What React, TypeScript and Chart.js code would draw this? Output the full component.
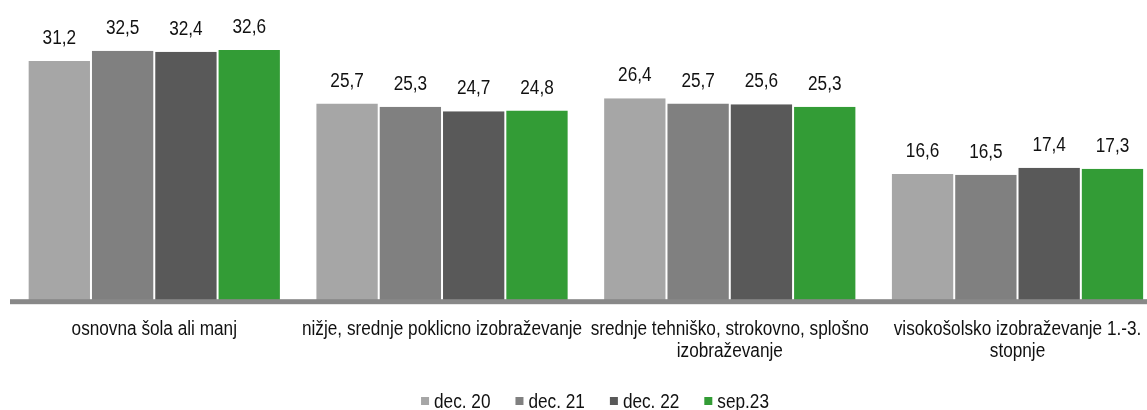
import React, { useEffect, useRef } from "react";
import { Chart, registerables } from "chart.js";

Chart.register(...registerables);

const categories: string[][] = [
  ["osnovna šola ali manj"],
  ["nižje, srednje poklicno izobraževanje"],
  ["srednje tehniško, strokovno, splošno", "izobraževanje"],
  ["visokošolsko izobraževanje 1.-3.", "stopnje"],
];
const seriesLabels = ["dec. 20", "dec. 21", "dec. 22", "sep.23"];
const dec20 = [31.2, 25.7, 26.4, 16.6];
const dec21 = [32.5, 25.3, 25.7, 16.5];
const dec22 = [32.4, 24.7, 25.6, 17.4];
const sep23 = [32.6, 24.8, 25.3, 17.3];
const seriesColors = ["#a6a6a6", "#808080", "#595959", "#339c36"];

const FONT = "'Liberation Sans', Arial, sans-serif";
const NARROW = 0.86;

function narrowText(ctx: CanvasRenderingContext2D, text: string, x: number, y: number, align: CanvasTextAlign, sx: number) {
  ctx.save();
  ctx.translate(x, y);
  ctx.scale(sx, 1);
  ctx.textAlign = align;
  ctx.fillText(text, 0, 0);
  ctx.restore();
}

const overlayPlugin = {
  id: "overlay",
  afterDatasetsDraw(chart: any) {
    const { ctx, chartArea } = chart;
    ctx.save();
    // axis line
    ctx.fillStyle = "#888888";
    ctx.fillRect(chartArea.left - 0.4, chartArea.bottom - 3.5, chartArea.right - chartArea.left + 5, 5);

    // value labels
    ctx.fillStyle = "#111111";
    ctx.font = `20px ${FONT}`;
    ctx.textBaseline = "alphabetic";
    chart.data.datasets.forEach((ds: any, di: number) => {
      const meta = chart.getDatasetMeta(di);
      meta.data.forEach((bar: any, i: number) => {
        const v = ds.data[i] as number;
        narrowText(ctx, v.toFixed(1).replace(".", ","), bar.x, bar.y - 17, "center", NARROW);
      });
    });

    // category labels
    const xs = chart.scales.x;
    (chart.data.labels as string[][]).forEach((lines, i) => {
      const cx = xs.getPixelForValue(i);
      lines.forEach((line, li) => {
        narrowText(ctx, line, cx, chartArea.bottom + 32 + li * 22.5, "center", NARROW);
      });
    });

    // legend
    const box = 8, gap = 5, spacing = 25;
    const items = chart.data.datasets.map((ds: any) => ({
      text: ds.label as string,
      color: ds.backgroundColor as string,
      w: ctx.measureText(ds.label).width * NARROW,
    }));
    const total = items.reduce((s: number, it: any) => s + box + gap + it.w, 0) + spacing * (items.length - 1);
    let x = 595 - total / 2;
    items.forEach((it: any) => {
      ctx.fillStyle = it.color;
      ctx.fillRect(x, 397, box, box);
      ctx.fillStyle = "#111111";
      narrowText(ctx, it.text, x + box + gap, 407.5, "left", NARROW);
      x += box + gap + it.w + spacing;
    });
    ctx.restore();
  },
};

export default function App() {
  const ref = useRef<HTMLCanvasElement>(null);
  useEffect(() => {
    if (!ref.current) return;
    const series = [dec20, dec21, dec22, sep23];
    const chart = new Chart(ref.current, {
      type: "bar",
      data: {
        labels: categories as any,
        datasets: series.map((d, i) => ({
          label: seriesLabels[i],
          data: d,
          backgroundColor: seriesColors[i],
          borderColor: "#ffffff",
          borderWidth: { left: 1, right: 1, top: 0, bottom: 0 },
          borderSkipped: "start",
          categoryPercentage: 0.88,
          barPercentage: 1,
        })),
      },
      options: {
        responsive: false,
        animation: false,
        devicePixelRatio: 1,
        layout: { padding: { left: 10.4, right: 0.6, top: 31.5, bottom: 0 } },
        plugins: {
          legend: { display: false },
          tooltip: { enabled: false },
        },
        scales: {
          x: {
            grid: { display: false, drawTicks: false },
            border: { display: false },
            ticks: { display: false },
            afterFit: (s: any) => {
              s.height = 107.3;
            },
          },
          y: { display: false, min: 0, max: 35 },
        },
      },
      plugins: [overlayPlugin],
    });
    return () => chart.destroy();
  }, []);
  return (
    <div style={{ position: "fixed", left: 0, top: 0, width: 1147, height: 410, overflow: "hidden", background: "#fff" }}>
      <canvas ref={ref} width={1162} height={410} style={{ width: 1162, height: 410, display: "block" }} />
    </div>
  );
}
